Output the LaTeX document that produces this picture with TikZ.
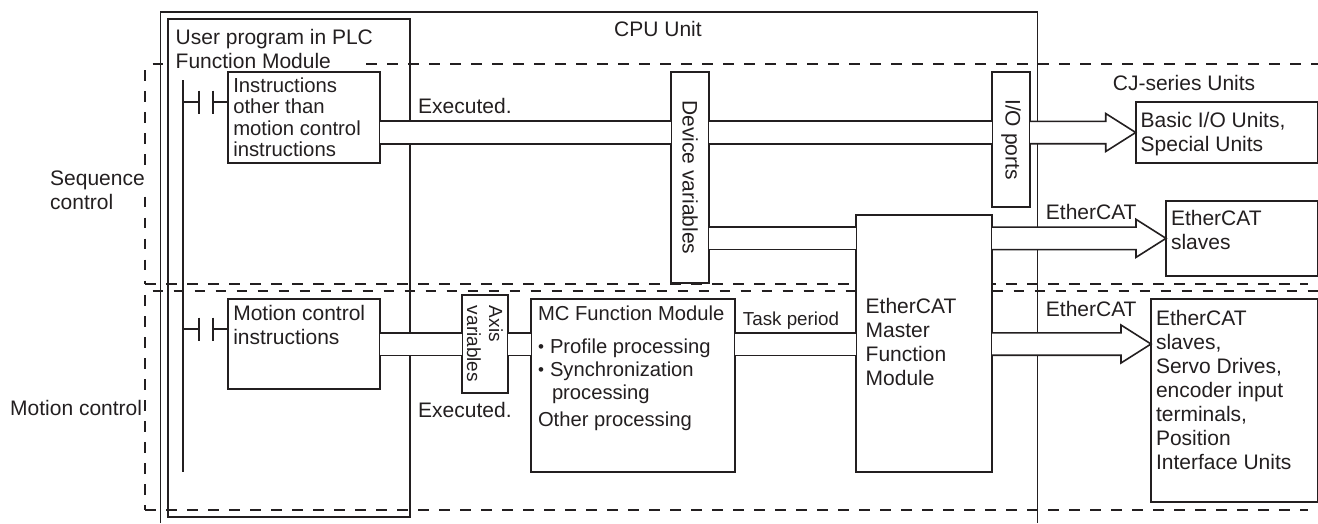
\documentclass[tikz,border=0pt]{standalone}
\usepackage{fontspec}
\setmainfont{Liberation Sans}
\usetikzlibrary{calc}
\definecolor{ink}{HTML}{231F20}
\newcommand\fsA{\fontsize{21}{24}\selectfont}
\newcommand\bul{\makebox[12pt][l]{\fontsize{17}{17}\selectfont\raisebox{1pt}{•}}}
\newcommand\bx[7][5]{%
  \pgfmathsetmacro\bw{#5-#3}\pgfmathsetmacro\bh{#6-#4}%
  \pgfmathsetmacro\bwi{\bw-2*#1}%
  \node[boxn,anchor=north west,inner xsep=#1pt,inner ysep=0pt,minimum width=\bw pt,minimum height=\bh pt] (#2) at (#3,#4)
    {\parbox[t][\bh pt][t]{\bwi pt}{\raggedright #7}};}
\newcommand\bandarrow[3]{%
  \draw[bandout] ($(#1)+(0,-11.2)$) -- ($(#2)+(-#3,-11.2)$) -- ($(#2)+(-#3,-19)$) -- (#2)
   -- ($(#2)+(-#3,19)$) -- ($(#2)+(-#3,11.2)$) -- ($(#1)+(0,11.2)$);
}
\tikzset{
  x=1pt,y=-1pt,
  every node/.style={text=ink,font=\fsA},
  boxn/.style={draw=ink,line width=2pt,fill=white,outer sep=0pt},
  txt/.style={anchor=base west,inner sep=0pt},
  frameline/.style={draw=ink,line width=1.5pt},
  modline/.style={draw=ink,line width=2pt},
  dashline/.style={draw=ink,line width=1.4pt,dash pattern=on 10.5pt off 10.5pt},
  band/.style={draw=ink,line width=1.6pt,double=white,double distance=21pt},
  bandout/.style={draw=ink,line width=1.6pt,fill=white,miter limit=10},
  rail/.style={draw=ink,line width=1.8pt},
}
\begin{document}
\begin{tikzpicture}
\useasboundingbox (0,0) rectangle (1318,523);
% frames
\coordinate (cpuBL) at (160.5,523);
\coordinate (cpuTL) at (160.5,12);
\coordinate (cpuTR) at (1037.7,12);
\coordinate (cpuBR) at (1037.7,523);
\draw[frameline] (cpuBL) -- (cpuTL) -- (cpuTR) -- (cpuBR);
\draw[modline] (168,19.3) rectangle (409.5,517.3);
% dashed regions
\draw[dashline] (152.7,64) -- (168,64);
\draw[dashline] (366,64) -- (1318,64);
\draw[dashline] (145,70) -- (145,165);
\draw[dashline] (145,196.7) -- (145,284);
\draw[dashline] (145,284) -- (1308,284);
\draw[dashline] (152.7,291) -- (1318,291);
\draw[dashline] (145,295) -- (145,510);
\draw[dashline] (145,510) -- (1308,510);
% rails
\draw[rail] (182.9,80) -- (182.9,472);
% labels
\node[txt] (cpulab) at (614,36.5) {CPU Unit};
\node[txt] (plclab) at (175.5,44.3) {User program in PLC};
\node[txt] (plclab2) at (175.5,68.3) {Function Module};
\node[txt] (cjlab) at (1112.7,90) {CJ-series Units};
\node[anchor=west,inner sep=0pt,align=left] (seqlab) at (50,190.5) {Sequence\\control};
\node[txt] (motlab) at (10,415) {Motion control};
\node[txt] (ex1) at (418,113.3) {Executed.};
\node[txt] (ex2) at (418,417.3) {Executed.};
\node[txt] (ec1) at (1045.7,219) {EtherCAT};
\node[txt] (ec2) at (1045.7,316) {EtherCAT};
\node[txt,font=\fontsize{18.8}{21}\selectfont] (task) at (742.7,325) {Task period};
% target boxes
\bx{basic}{1135.7}{102}{1317.5}{163}{\vspace*{10pt}\baselineskip=24.3pt Basic I/O Units,\\Special Units}
\bx{slaves}{1166}{200.7}{1317.5}{276}{\vspace*{9.7pt}\baselineskip=24.3pt EtherCAT\\slaves}
\bx{drives}{1151}{299}{1317.5}{502}{\vspace*{11pt}\baselineskip=24pt EtherCAT\\slaves,\\Servo Drives,\\encoder input\\terminals,\\Position\\Interface Units}
\coordinate (lowtip) at (drives.west |- 0,344);
% boxes
\bx{instr}{228.3}{72}{380}{163}{\fontsize{20.3}{21.3}\selectfont\vspace*{5.7pt}\baselineskip=21.3pt Instructions\\other than\\motion control\\instructions}
\bx{motion}{228.3}{299}{380}{389}{\vspace*{6.4pt}\baselineskip=24.3pt Motion control\\instructions}
\bx[7]{mc}{531}{299}{735}{472}{\fontsize{20.2}{23}\selectfont\vspace*{7pt}\baselineskip=23pt MC Function Module\\[10.3pt]
  \bul Profile processing\\
  \bul Synchronization\\
  \hspace*{14pt}processing\\[4pt]Other processing}
\bx[9.7]{master}{856}{215}{992}{472}{\vspace*{83pt}\baselineskip=24pt EtherCAT\\Master\\Function\\Module}
\node[boxn,rotate=-90,minimum width=211pt,minimum height=38pt] (device) at (690,177.5) {Device variables};
\node[boxn,rotate=-90,minimum width=135pt,minimum height=38pt] (io) at (1011,139.5) {I/O ports\hspace{13pt}};
\node[boxn,rotate=-90,minimum width=98pt,minimum height=46pt,align=left,font=\fontsize{19}{22}\selectfont] (axis) at (485,344) {Axis\\variables};
% bands
\coordinate (y1) at (0,132.4);
\draw[band] (instr.east |- y1) -- (device.south |- y1);
\draw[band] (device.north |- y1) -- (io.south |- y1);
\draw[band] (device.north |- slaves.west) -- (master.west |- slaves.west);
\draw[band] (motion.east) -- (axis.south);
\draw[band] (axis.north) -- (mc.west |- axis.north);
\draw[band] (mc.east |- axis.north) -- (master.west |- axis.north);
% arrows
\coordinate (s1) at (io.north |- basic.west);
\coordinate (s2) at (master.east |- slaves.west);
\coordinate (s3) at (master.east |- lowtip);
\bandarrow{s1}{basic.west}{30}
\bandarrow{s2}{slaves.west}{30}
\bandarrow{s3}{lowtip}{30}
% contacts
\coordinate (c1) at (198.7,102);
\coordinate (c2) at (213.3,102);
\coordinate (c3) at (198.7,329);
\coordinate (c4) at (213.3,329);
\draw[rail] (182.9,102) -- (c1) ++(0,-11.5) -- ++(0,23);
\draw[rail] (instr.west |- c2) -- (c2) ++(0,-11.5) -- ++(0,23);
\draw[rail] (182.9,329) -- (c3) ++(0,-11.5) -- ++(0,23);
\draw[rail] (motion.west |- c4) -- (c4) ++(0,-11.5) -- ++(0,23);
\end{tikzpicture}
\end{document}
